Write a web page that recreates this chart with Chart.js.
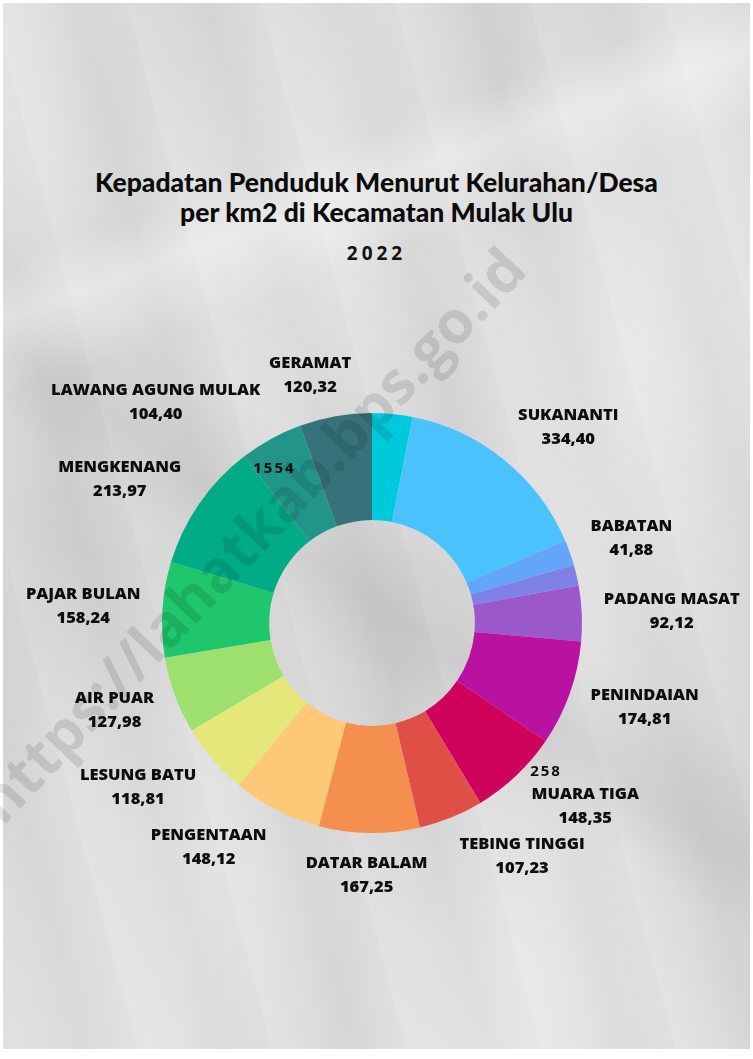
<!DOCTYPE html>
<html>
<head>
<meta charset="utf-8">
<script src="https://cdn.jsdelivr.net/npm/chart.js@4.4.1/dist/chart.umd.min.js"></script>
<style>
    html, body { margin: 0; padding: 0; background: #fff; }
    #page { position: relative; width: 753px; height: 1059px; overflow: hidden; background: #fff; }
    #paper {
        position: absolute; left: 3px; top: 3px; width: 747px; height: 1046px;
        background-color: #dcdcdc;
        background-image:
            linear-gradient(160deg, rgba(255,255,255,0) 20%, rgba(255,255,255,0.35) 24%, rgba(255,255,255,0) 30%),
            linear-gradient(35deg, rgba(0,0,0,0) 40%, rgba(0,0,0,0.05) 45%, rgba(0,0,0,0) 52%),
            linear-gradient(100deg, rgba(255,255,255,0.25) 0%, rgba(255,255,255,0) 15%, rgba(255,255,255,0.2) 38%, rgba(255,255,255,0) 55%, rgba(255,255,255,0.3) 75%, rgba(255,255,255,0) 100%),
            linear-gradient(200deg, rgba(0,0,0,0.04) 0%, rgba(0,0,0,0) 30%, rgba(0,0,0,0.05) 60%, rgba(0,0,0,0) 80%),
            repeating-linear-gradient(75deg, rgba(255,255,255,0.12) 0px, rgba(255,255,255,0) 40px, rgba(0,0,0,0.03) 80px, rgba(255,255,255,0) 130px);
    }
    .title {
        position: absolute; left: 0; width: 753px; text-align: center; color: #0b0b0b;
        font-family: Lato, sans-serif; font-weight: 900; font-size: 26.5px; line-height: 30px;
    }
    .year {
        position: absolute; left: 0; width: 753px; text-align: center; color: #111;
        font-family: "Open Sans", sans-serif; font-weight: 700; font-size: 19px; letter-spacing: 4px;
    }
    #chartBox { position: absolute; left: 0; top: 0; width: 753px; height: 1059px; }
</style>
</head>
<body>
<div id="page">
    <div id="paper"></div>
    <div class="title" style="top:167px">Kepadatan Penduduk Menurut Kelurahan/Desa<br>per km2 di Kecamatan Mulak Ulu</div>
    <div class="year" style="top:240px">2022</div>
    <div id="chartBox"><canvas id="densityChart"></canvas></div>
</div>

<script>
    // ==========================================
    // DATA (kepadatan per km2, 2022)
    // ==========================================
    var villages = ['', 'SUKANANTI', 'BABATAN', '', 'PADANG MASAT', 'PENINDAIAN', 'MUARA TIGA',
        'TEBING TINGGI', 'DATAR BALAM', 'PENGENTAAN', 'LESUNG BATU', 'AIR PUAR', 'PAJAR BULAN',
        'MENGKENANG', 'LAWANG AGUNG MULAK', 'GERAMAT'];
    var density = [67, 334.40, 41.88, 35, 92.12, 174.81, 148.35,
        107.23, 167.25, 148.12, 118.81, 127.98, 158.24,
        213.97, 104.40, 120.32];
    var strayNotes = ['1554', '258'];

    var sliceColors = ['#00c9dc', '#4ac2fe', '#63a5f8', '#7f81e6', '#9a58cb', '#ba12a0', '#cf025c',
        '#df4f45', '#f58f50', '#fdc877', '#e6e77a', '#9de06e', '#1fc66b',
        '#00ab86', '#229589', '#36727a'];

    function fmt(v) {
        return v.toFixed(2).replace('.', ',');
    }

    // ==========================================
    // LABELS OUTSIDE THE RING
    // ==========================================
    var outerLabels = {
        id: 'outerLabels',
        afterDatasetsDraw: function(chart) {
            var ctx = chart.ctx;
            var meta = chart.getDatasetMeta(0);
            ctx.save();
            ctx.fillStyle = '#0d0d0d';
            ctx.textBaseline = 'middle';
            ctx.font = '800 16.5px "Open Sans"';
            meta.data.forEach(function(arc, i) {
                if (!villages[i]) return;
                var p = arc.getProps(['x', 'y', 'startAngle', 'endAngle', 'outerRadius'], true);
                var mid = (p.startAngle + p.endAngle) / 2;
                var c = Math.cos(mid), s = Math.sin(mid);
                var r = p.outerRadius + 22;
                var val = fmt(density[i]);
                var w = Math.max(ctx.measureText(villages[i]).width, ctx.measureText(val).width);
                var k = Math.max(-1, Math.min(1, c * 3));
                var x = p.x + c * r + k * w / 2;
                var y = p.y + s * r + s * 20;
                ctx.textAlign = 'center';
                ctx.fillText(villages[i], x, y - 12);
                ctx.fillText(val, x, y + 12);
            });

            // leftover number tags
            var arcA = meta.data[13].getProps(['x', 'y', 'endAngle', 'outerRadius'], true);
            var arcB = meta.data[5].getProps(['x', 'y', 'endAngle', 'outerRadius'], true);
            ctx.font = '700 15px "Open Sans"';
            ctx.letterSpacing = '2px';
            ctx.textAlign = 'center';
            var a1 = arcA.endAngle + 0.09;
            ctx.fillText(strayNotes[0], arcA.x + Math.cos(a1) * arcA.outerRadius * 0.87, arcA.y + Math.sin(a1) * arcA.outerRadius * 0.87);
            var a2 = arcB.endAngle + 0.11;
            ctx.fillText(strayNotes[1], arcB.x + Math.cos(a2) * arcB.outerRadius * 1.09, arcB.y + Math.sin(a2) * arcB.outerRadius * 1.09);
            ctx.restore();
        },
        afterDraw: function(chart) {
            // watermark
            var ctx = chart.ctx;
            ctx.save();
            ctx.translate(254, 538);
            ctx.rotate(-46.5 * Math.PI / 180);
            ctx.font = '700 59px "Open Sans"';
            ctx.fillStyle = 'rgba(0,0,0,0.11)';
            ctx.textAlign = 'center';
            ctx.textBaseline = 'middle';
            ctx.fillText('https://lahatkab.bps.go.id', 0, 0);
            ctx.restore();
        }
    };

    // ==========================================
    // CHART
    // ==========================================
    new Chart(document.getElementById('densityChart'), {
        type: 'doughnut',
        data: {
            labels: villages,
            datasets: [{
                data: density,
                backgroundColor: sliceColors,
                borderWidth: 0
            }]
        },
        options: {
            responsive: true,
            maintainAspectRatio: false,
            animation: false,
            cutout: '49%',
            layout: { padding: { left: 162, right: 171, top: 413, bottom: 226 } },
            plugins: {
                legend: { display: false },
                tooltip: { enabled: false }
            }
        },
        plugins: [outerLabels]
    });
</script>
</body>
</html>
